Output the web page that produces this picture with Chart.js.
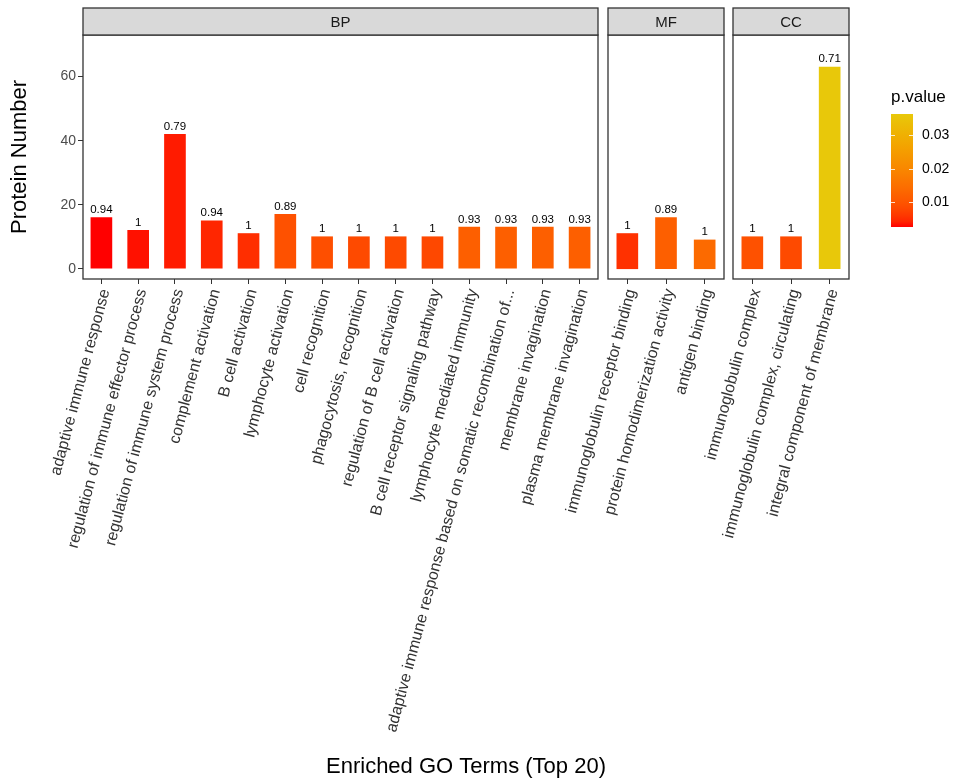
<!DOCTYPE html>
<html>
<head>
<meta charset="utf-8">
<script src="https://cdn.jsdelivr.net/npm/chart.js@4.4.1/dist/chart.umd.min.js"></script>
<style>
    body { margin: 0; background: #fff; }
    #wrap { position: relative; width: 957px; height: 783px; }
    #wrap canvas { position: absolute; left: 0; top: 0; }
</style>
</head>
<body>
<div id="wrap">
    <canvas id="bpChart" width="957" height="783"></canvas>
    <canvas id="mfChart" width="957" height="783"></canvas>
    <canvas id="ccChart" width="957" height="783"></canvas>
</div>
<script>
// ---- data ----
const bpTerms = [
    'adaptive immune response',
    'regulation of immune effector process',
    'regulation of immune system process',
    'complement activation',
    'B cell activation',
    'lymphocyte activation',
    'cell recognition',
    'phagocytosis, recognition',
    'regulation of B cell activation',
    'B cell receptor signaling pathway',
    'lymphocyte mediated immunity',
    'adaptive immune response based on somatic recombination of...',
    'membrane invagination',
    'plasma membrane invagination'
];
const bpCounts = [16, 12, 42, 15, 11, 17, 10, 10, 10, 10, 13, 13, 13, 13];
const bpRatio = ['0.94', '1', '0.79', '0.94', '1', '0.89', '1', '1', '1', '1', '0.93', '0.93', '0.93', '0.93'];
const bpPValues = [0.0025, 0.0030, 0.0035, 0.0042, 0.0049, 0.0093, 0.0090, 0.0083, 0.0083, 0.0080, 0.0117, 0.0117, 0.0117, 0.0117];

const mfTerms = ['immunoglobulin receptor binding', 'protein homodimerization activity', 'antigen binding'];
const mfCounts = [11, 16, 9];
const mfRatio = ['1', '0.89', '1'];
const mfPValues = [0.0052, 0.0117, 0.0137];

const ccTerms = ['immunoglobulin complex', 'immunoglobulin complex, circulating', 'integral component of membrane'];
const ccCounts = [10, 10, 63];
const ccRatio = ['1', '1', '0.71'];
const ccPValues = [0.0093, 0.0083, 0.0364];

const yTicks = [0, 20, 40, 60];
const legendTicks = [0.01, 0.02, 0.03];

const FONT = '"Liberation Sans", Arial, sans-serif';
const LOW_COLOR = '#ff0000';
const HIGH_COLOR = '#e8c80a';

// ---- colour gradient (Lab interpolation, like ggplot) ----
function hexToRgb(h) {
    return [1, 3, 5].map(i => parseInt(h.slice(i, i + 2), 16));
}
function rgbToLab(rgb) {
    const lin = rgb.map(c => {
        c /= 255;
        return c <= 0.04045 ? c / 12.92 : Math.pow((c + 0.055) / 1.055, 2.4);
    });
    const x = (0.4124 * lin[0] + 0.3576 * lin[1] + 0.1805 * lin[2]) / 0.95047;
    const y = 0.2126 * lin[0] + 0.7152 * lin[1] + 0.0722 * lin[2];
    const z = (0.0193 * lin[0] + 0.1192 * lin[1] + 0.9505 * lin[2]) / 1.08883;
    const f = t => t > 0.008856 ? Math.cbrt(t) : 7.787 * t + 16 / 116;
    const fx = f(x), fy = f(y), fz = f(z);
    return [116 * fy - 16, 500 * (fx - fy), 200 * (fy - fz)];
}
function labToRgb(lab) {
    const fy = (lab[0] + 16) / 116;
    const fx = fy + lab[1] / 500;
    const fz = fy - lab[2] / 200;
    const inv = t => t > 0.206893 ? t * t * t : (t - 16 / 116) / 7.787;
    const x = inv(fx) * 0.95047, y = inv(fy), z = inv(fz) * 1.08883;
    const lin = [
        3.2406 * x - 1.5372 * y - 0.4986 * z,
        -0.9689 * x + 1.8758 * y + 0.0415 * z,
        0.0557 * x - 0.2040 * y + 1.0570 * z
    ];
    return lin.map(c => {
        c = Math.min(1, Math.max(0, c));
        c = c <= 0.0031308 ? 12.92 * c : 1.055 * Math.pow(c, 1 / 2.4) - 0.055;
        return Math.round(c * 255);
    });
}
const lowLab = rgbToLab(hexToRgb(LOW_COLOR));
const highLab = rgbToLab(hexToRgb(HIGH_COLOR));
const allP = bpPValues.concat(mfPValues, ccPValues);
const pMin = Math.min(...allP);
const pMax = Math.max(...allP);

function pColor(p) {
    const t = (p - pMin) / (pMax - pMin);
    const lab = lowLab.map((v, i) => v + (highLab[i] - v) * t);
    const rgb = labToRgb(lab);
    return `rgb(${rgb[0]},${rgb[1]},${rgb[2]})`;
}

// ---- plugins ----
const panelPlugin = {
    id: 'panel',
    afterDatasetsDraw(chart, args, opts) {
        const ctx = chart.ctx;
        const meta = chart.getDatasetMeta(0);
        ctx.save();
        ctx.fillStyle = '#000';
        ctx.font = `11.5px ${FONT}`;
        ctx.textAlign = 'center';
        ctx.textBaseline = 'bottom';
        meta.data.forEach((bar, i) => {
            ctx.fillText(opts.labels[i], bar.x, bar.y - 2);
        });
        ctx.restore();
    },
    afterDraw(chart, args, opts) {
        const ctx = chart.ctx;
        const a = chart.chartArea;
        ctx.save();
        ctx.strokeStyle = '#333';
        ctx.lineWidth = 1.3;
        ctx.strokeRect(a.left, a.top, a.right - a.left, a.bottom - a.top);
        // facet strip
        ctx.fillStyle = '#d9d9d9';
        ctx.fillRect(a.left, 8, a.right - a.left, a.top - 8);
        ctx.strokeRect(a.left, 8, a.right - a.left, a.top - 8);
        ctx.fillStyle = '#1a1a1a';
        ctx.font = `15px ${FONT}`;
        ctx.textAlign = 'center';
        ctx.textBaseline = 'middle';
        ctx.fillText(opts.strip, (a.left + a.right) / 2, (a.top + 8) / 2 + 1);
        if (opts.xTitle) {
            ctx.fillStyle = '#000';
            ctx.font = `22px ${FONT}`;
            ctx.fillText(opts.xTitle, 466, 767);
        }
        ctx.restore();
    }
};

const colorbarPlugin = {
    id: 'colorbar',
    afterDraw(chart, args, opts) {
        if (!opts.show) return;
        const ctx = chart.ctx;
        const x0 = 891, x1 = 913, yTop = 114, yBot = 227;
        const yOf = p => yBot - (p - pMin) / (pMax - pMin) * (yBot - yTop);
        ctx.save();
        const grad = ctx.createLinearGradient(0, yBot, 0, yTop);
        for (let k = 0; k <= 20; k++) {
            grad.addColorStop(k / 20, pColor(pMin + (pMax - pMin) * k / 20));
        }
        ctx.fillStyle = grad;
        ctx.fillRect(x0, yTop, x1 - x0, yBot - yTop);
        ctx.strokeStyle = 'rgba(255,255,255,0.8)';
        ctx.lineWidth = 1;
        ctx.fillStyle = '#000';
        ctx.font = `14px ${FONT}`;
        ctx.textAlign = 'left';
        ctx.textBaseline = 'middle';
        legendTicks.forEach(t => {
            const y = Math.round(yOf(t)) + 0.5;
            ctx.beginPath();
            ctx.moveTo(x0, y); ctx.lineTo(x0 + 4, y);
            ctx.moveTo(x1 - 4, y); ctx.lineTo(x1, y);
            ctx.stroke();
            ctx.fillText(t.toFixed(2), 922, y);
        });
        ctx.font = `17px ${FONT}`;
        ctx.fillText('p.value', 891, 97);
        ctx.restore();
    }
};

// ---- chart builder ----
function makePanel(canvasId, terms, counts, ratios, pvals, strip, left, right, showY) {
    const ctx = document.getElementById(canvasId).getContext('2d');
    return new Chart(ctx, {
        type: 'bar',
        data: {
            labels: terms,
            datasets: [{
                data: counts,
                backgroundColor: pvals.map(pColor),
                barThickness: 21
            }]
        },
        options: {
            responsive: false,
            animation: false,
            layout: {
                padding: { left: left, right: 957 - right, top: 35, bottom: 0 }
            },
            plugins: {
                legend: { display: false },
                tooltip: { enabled: false },
                panel: {
                    strip: strip,
                    labels: ratios,
                    xTitle: showY ? 'Enriched GO Terms (Top 20)' : null
                },
                colorbar: { show: strip === 'CC' }
            },
            scales: {
                x: {
                    type: 'category',
                    offset: true,
                    border: { display: false },
                    grid: {
                        display: true,
                        drawOnChartArea: false,
                        offset: false,
                        tickLength: 5,
                        color: '#333'
                    },
                    ticks: {
                        autoSkip: false,
                        minRotation: 75,
                        maxRotation: 75,
                        padding: 3,
                        labelOffset: 4,
                        color: '#333',
                        font: { family: FONT, size: 16 }
                    },
                    afterFit(scale) {
                        scale.height = 783 - 279;
                        scale.paddingLeft = 0;
                        scale.paddingRight = 0;
                    }
                },
                y: {
                    display: showY,
                    min: -3.2,
                    max: 73,
                    border: { display: false },
                    grid: {
                        display: true,
                        drawOnChartArea: false,
                        tickLength: 5,
                        color: '#333'
                    },
                    ticks: {
                        padding: 2,
                        color: '#4d4d4d',
                        font: { family: FONT, size: 14 }
                    },
                    title: {
                        display: true,
                        text: 'Protein Number',
                        color: '#000',
                        font: { family: FONT, size: 22 },
                        padding: { top: 7, bottom: 0 }
                    },
                    afterBuildTicks(scale) {
                        scale.ticks = yTicks.map(v => ({ value: v }));
                    },
                    afterFit(scale) {
                        if (showY) scale.width = 83;
                    }
                }
            }
        },
        plugins: [panelPlugin, colorbarPlugin]
    });
}

document.addEventListener('DOMContentLoaded', () => {
    makePanel('bpChart', bpTerms, bpCounts, bpRatio, bpPValues, 'BP', 0, 598, true);
    makePanel('mfChart', mfTerms, mfCounts, mfRatio, mfPValues, 'MF', 608, 724, false);
    makePanel('ccChart', ccTerms, ccCounts, ccRatio, ccPValues, 'CC', 733, 849, false);
});
</script>
</body>
</html>
